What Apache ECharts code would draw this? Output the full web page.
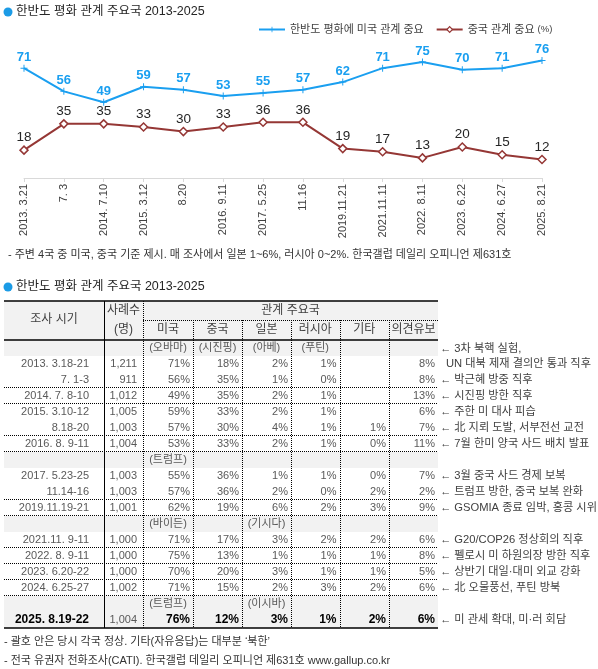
<!DOCTYPE html>
<html><head><meta charset="utf-8">
<script src="https://cdn.jsdelivr.net/npm/echarts@6/dist/echarts.min.js"></script>
<style>html,body{margin:0;padding:0;background:#fff}#c{width:598px;height:669px}</style>
</head><body><div id="c"></div>
<script>
// ---- line chart data ----
const chartDates = ['2013. 3.21','7. 3','2014. 7.10','2015. 3.12','8.20','2016. 9.11','2017. 5.25','11.16','2019.11.21','2021.11.11','2022. 8.11','2023. 6.22','2024. 6.27','2025. 8.21'];
const usImportant = [71,56,49,59,57,53,55,57,62,71,75,70,71,76];
const cnImportant = [18,35,35,33,30,33,36,36,19,17,13,20,15,12];
const seriesNames = ['한반도 평화에 미국 관계 중요','중국 관계 중요'];

// ---- table data ----
const tblHeaderCountries = ['미국','중국','일본','러시아','기타','의견유보'];
const tblPeriod = ['2013. 3.18-21','7. 1-3','2014. 7. 8-10','2015. 3.10-12','8.18-20','2016. 8. 9-11','2017. 5.23-25','11.14-16','2019.11.19-21','2021.11. 9-11','2022. 8. 9-11','2023. 6.20-22','2024. 6.25-27','2025. 8.19-22'];
const tblN   = ['1,211','911','1,012','1,005','1,003','1,004','1,003','1,003','1,001','1,000','1,000','1,000','1,002','1,004'];
const tblUS  = ['71%','56%','49%','59%','57%','53%','55%','57%','62%','71%','75%','70%','71%','76%'];
const tblCN  = ['18%','35%','35%','33%','30%','33%','36%','36%','19%','17%','13%','20%','15%','12%'];
const tblJP  = ['2%','1%','2%','2%','4%','2%','1%','2%','6%','3%','1%','3%','2%','3%'];
const tblRU  = ['1%','0%','1%','1%','1%','1%','1%','0%','2%','2%','1%','1%','3%','1%'];
const tblETC = ['','','','','1%','0%','0%','2%','3%','2%','1%','1%','2%','2%'];
const tblDK  = ['8%','8%','13%','6%','7%','11%','7%','2%','9%','6%','8%','5%','6%','6%'];
const tblNotes = [['← 3차 북핵 실험,','UN 대북 제재 결의안 통과 직후'],'← 박근혜 방중 직후','← 시진핑 방한 직후','← 주한 미 대사 피습','← 北 지뢰 도발, 서부전선 교전','← 7월 한미 양국 사드 배치 발표','← 3월 중국 사드 경제 보복','← 트럼프 방한, 중국 보복 완화','← GSOMIA 종료 임박, 홍콩 시위','← G20/COP26 정상회의 직후','← 펠로시 미 하원의장 방한 직후','← 상반기 대일·대미 외교 강화','← 北 오물풍선, 푸틴 방북','← 미 관세 확대, 미·러 회담'];
const tblDottedBelow = [0,1,1,0,1,1,0,1,1,1,1,1,1,0];
const leaderRows = [
  {before:0, names:['(오바마)','(시진핑)','(아베)','(푸틴)']},
  {before:6, names:['(트럼프)','','','']},
  {before:9, names:['(바이든)','','(기시다)','']},
  {before:13, names:['(트럼프)','','(이시바)','']}
];
const footTop = '- 주변 4국 중 미국, 중국 기준 제시. 매 조사에서 일본 1~6%, 러시아 0~2%. 한국갤럽 데일리 오피니언 제631호';
const footNotes = ['- 괄호 안은 당시 각국 정상. 기타(자유응답)는 대부분 \u2018북한\u2019','- 전국 유권자 전화조사(CATI). 한국갤럽 데일리 오피니언 제631호 www.gallup.co.kr'];
const titleText = '한반도 평화 관계 주요국 2013-2025';

// ---- styling ----
const FF = "'Liberation Sans','Noto Sans CJK KR',sans-serif";
const BLUE = '#1a9ff0', BROWN = '#953735';
const plusPath = 'path://M4.3,0H5.7V4.3H10V5.7H5.7V10H4.3V5.7H0V4.3H4.3Z';

const g = [];
function txt(x,y,t,o){o=o||{};g.push({type:'text',x:x,y:y,silent:true,style:{text:t,fill:o.fill||'#404040',font:(o.weight||'normal')+' '+(o.size||11)+'px '+FF,align:o.align||'left',textAlign:o.align||'left',verticalAlign:'middle',textVerticalAlign:'middle'}});}
function ln(x1,y1,x2,y2,o){o=o||{};g.push({type:'line',silent:true,shape:{x1:x1,y1:y1,x2:x2,y2:y2},style:{stroke:o.stroke||'#000',lineWidth:o.w||1,lineDash:o.dash?[1,1]:null}});}
function rect(x,y,w,h,fill){g.push({type:'rect',silent:true,shape:{x:x,y:y,width:w,height:h},style:{fill:fill}});}

// titles
[12,287].forEach(function(y){g.push({type:'circle',silent:true,shape:{cx:8,cy:y,r:4.5},style:{fill:'#1b9be6'}});txt(16,y,titleText,{size:12.5,fill:'#262626'});});
txt(8,255,footTop,{size:11,fill:'#333'});
txt(4,642,footNotes[0],{size:11,fill:'#333'});
txt(4,661,footNotes[1],{size:11,fill:'#333'});

// ---- table ----
const cols = [4,104,143,193,242,291,339.5,389,438];
const TOP = 301, H1 = 320, H2 = 340, RH = 16;
const layout = [];
tblPeriod.forEach(function(p,i){
  leaderRows.forEach(function(l){ if(l.before===i) layout.push({type:'leader',names:l.names,dataIdx:i}); });
  layout.push({type:'data',i:i});
});
const bottom = H2 + layout.length*RH;
const lastIdx = tblPeriod.length-1;
rect(cols[0],TOP,cols[8]-cols[0],H2-TOP,'#f2f2f2');
layout.forEach(function(r,k){
  const y0 = H2 + k*RH;
  if(r.type==='leader' || r.i===lastIdx) rect(cols[0],y0,cols[8]-cols[0],RH,'#f2f2f2');
});
txt((cols[0]+cols[1])/2,320,'조사 시기',{align:'center',size:12});
txt((cols[1]+cols[2])/2,311,'사례수',{align:'center',size:12});
txt((cols[1]+cols[2])/2,330,'(명)',{align:'center',size:12});
txt((cols[2]+cols[8])/2,311,'관계 주요국',{align:'center',size:12});
tblHeaderCountries.forEach(function(c,j){txt((cols[2+j]+cols[3+j])/2,330,c,{align:'center',size:12});});
const valCols = [tblUS,tblCN,tblJP,tblRU,tblETC,tblDK];
const NOTE = {size:11.2,fill:'#404040'};
layout.forEach(function(r,k){
  const y0 = H2 + k*RH, yc = y0 + RH/2;
  if(r.type==='leader'){
    r.names.forEach(function(nm,j){ if(nm) txt((cols[2+j]+cols[3+j])/2,yc,nm,{align:'center',size:11,fill:'#595959'}); });
    const nt = tblNotes[r.dataIdx];
    if(Array.isArray(nt)) txt(440,yc+1,nt[0],NOTE);
    return;
  }
  const i = r.i, last = i===lastIdx;
  const st = last ? {size:12,weight:'bold',fill:'#000'} : {size:11,fill:'#595959'};
  txt(89,yc,tblPeriod[i],Object.assign({align:'right'},st));
  txt(137,yc,tblN[i],{align:'right',size:11,fill:'#595959'});
  valCols.forEach(function(arr,j){ if(arr[i]) txt(cols[3+j]-3,yc,arr[i],Object.assign({align:'right'},st)); });
  const nt = tblNotes[i];
  if(Array.isArray(nt)) txt(446,yc,nt[1],NOTE);
  else txt(440,yc,nt,NOTE);
  if(tblDottedBelow[i]) ln(cols[0],y0+RH-0.5,cols[8],y0+RH-0.5,{dash:true});
});
ln(cols[0],TOP,cols[8],TOP,{w:1.6});
ln(cols[0],H2,cols[8],H2,{w:1.4});
ln(cols[0],bottom,cols[8],bottom,{w:1.6});
ln(cols[2],H1+0.5,cols[8],H1+0.5,{dash:true});
ln(cols[1]+0.5,TOP,cols[1]+0.5,bottom,{});
ln(cols[2]+0.5,TOP,cols[2]+0.5,bottom,{dash:true});
for(let j=3;j<8;j++) ln(Math.round(cols[j])+0.5,H1,Math.round(cols[j])+0.5,bottom,{dash:true});

// ---- chart ----
const chart = echarts.init(document.getElementById('c'),null,{renderer:'canvas'});
chart.setOption({
  animation:false,
  backgroundColor:'#fff',
  textStyle:{fontFamily:FF},
  legend:{left:253,top:19,itemWidth:26,itemHeight:7,itemGap:12,
    textStyle:{fontSize:11,color:'#404040',fontFamily:FF,rich:{s:{fontSize:9.5,color:'#404040',fontFamily:FF}}},
    formatter:function(n){return n===seriesNames[1]? n+' {s|(%)}' : n;},
    data:[{name:seriesNames[0]},{name:seriesNames[1],itemStyle:{color:'#fff',borderColor:BROWN,borderWidth:1.2}}]},
  grid:{left:24,right:56,top:23.3,height:154.7,containLabel:false},
  xAxis:{type:'category',boundaryGap:false,data:chartDates,
    axisLine:{lineStyle:{color:'#d9d9d9',width:1}},
    axisTick:{show:true,length:4,lineStyle:{color:'#d9d9d9'}},
    axisLabel:{rotate:90,interval:0,fontSize:11,color:'#404040',margin:6,fontFamily:FF}},
  yAxis:{type:'value',min:0,max:100,show:false},
  series:[
    {name:seriesNames[0],type:'line',data:usImportant,symbol:plusPath,symbolSize:7,
     lineStyle:{color:BLUE,width:2},itemStyle:{color:BLUE},
     label:{show:true,position:'top',distance:1,color:BLUE,fontWeight:'bold',fontSize:13,fontFamily:FF}},
    {name:seriesNames[1],type:'line',data:cnImportant,symbol:'diamond',symbolSize:8,
     lineStyle:{color:BROWN,width:2},itemStyle:{color:'#fff',borderColor:BROWN,borderWidth:1.5},
     label:{show:true,position:'top',distance:1,color:'#262626',fontSize:13.5,fontFamily:FF}}
  ],
  graphic:{elements:g}
});
</script></body></html>
